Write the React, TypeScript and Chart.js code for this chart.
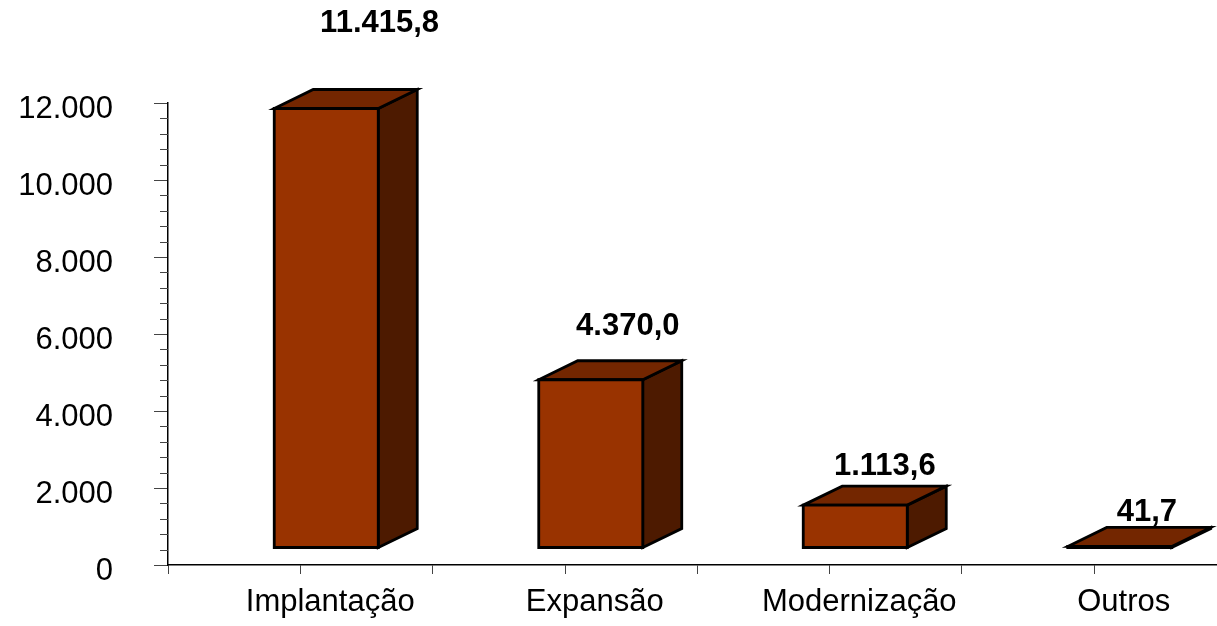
import React, { useEffect, useRef } from "react";
import { Chart, registerables } from "chart.js";

Chart.register(...registerables);

const categories = ["Implantação", "Expansão", "Modernização", "Outros"];
const values = [11415.8, 4370.0, 1113.6, 41.7];
const valueLabels = ["11.415,8", "4.370,0", "1.113,6", "41,7"];
const yTickValues = [0, 2000, 4000, 6000, 8000, 10000, 12000];
const yTickLabels = ["0", "2.000", "4.000", "6.000", "8.000", "10.000", "12.000"];

const FONT = "Arial, 'Liberation Sans', sans-serif";
const FRONT = "#993300";
const TOP = "#732600";
const SIDE = "#4d1a00";

const bars3d = {
  id: "bars3d",
  afterDatasetsDraw(chart: any) {
    const ctx = chart.ctx;
    const y = chart.scales.y;
    const meta = chart.getDatasetMeta(0);
    ctx.save();
    ctx.strokeStyle = "#444";
    ctx.lineWidth = 1;
    for (let v = 0; v <= 12000; v += 400) {
      if (v % 2000 === 0) continue;
      const py = Math.round(y.getPixelForValue(v)) + 0.5;
      ctx.beginPath();
      ctx.moveTo(chart.chartArea.left - 8, py);
      ctx.lineTo(chart.chartArea.left, py);
      ctx.stroke();
    }
    const x = chart.scales.x;
    const ab = chart.chartArea.bottom;
    categories.forEach((_, i) => {
      const px = Math.round(x.getPixelForValue(i)) + 0.5;
      ctx.beginPath();
      ctx.moveTo(px, ab);
      ctx.lineTo(px, ab + 9);
      ctx.stroke();
    });
    ctx.restore();

    const dx = 39;
    const dy = -19;
    const lift = 17;
    meta.data.forEach((el: any, i: number) => {
      const w = el.width;
      const h = el.base - el.y;
      const l = el.x - w / 2 + 26;
      const r = l + w;
      const b = el.base - lift;
      const t = b - h;
      ctx.save();
      ctx.lineWidth = 2.8;
      ctx.lineJoin = "miter";
      ctx.strokeStyle = "#000";
      ctx.beginPath();
      ctx.moveTo(r, t);
      ctx.lineTo(r + dx, t + dy);
      ctx.lineTo(r + dx, b + dy);
      ctx.lineTo(r, b);
      ctx.closePath();
      ctx.fillStyle = SIDE;
      ctx.fill();
      ctx.stroke();
      ctx.beginPath();
      ctx.moveTo(l, t);
      ctx.lineTo(l + dx, t + dy);
      ctx.lineTo(r + dx, t + dy);
      ctx.lineTo(r, t);
      ctx.closePath();
      ctx.fillStyle = TOP;
      ctx.fill();
      ctx.stroke();
      ctx.beginPath();
      ctx.rect(l, t, w, h);
      ctx.fillStyle = FRONT;
      ctx.fill();
      ctx.stroke();
      ctx.fillStyle = "#000";
      ctx.font = `bold 31px ${FONT}`;
      ctx.textAlign = "center";
      ctx.textBaseline = "alphabetic";
      const cx = l + w / 2 + 27 + 0.06 * h;
      const cy = b - h * 1.118 - 36;
      ctx.fillText(valueLabels[i], cx, cy + 11);
      ctx.restore();
    });
  },
};

export default function App() {
  const ref = useRef<HTMLCanvasElement>(null);
  useEffect(() => {
    if (!ref.current) return;
    const chart = new Chart(ref.current, {
      type: "bar",
      data: {
        labels: categories,
        datasets: [
          {
            data: values,
            backgroundColor: "rgba(0,0,0,0)",
            borderWidth: 0,
            barPercentage: 0.3932,
            categoryPercentage: 1,
          },
        ],
      },
      options: {
        responsive: false,
        devicePixelRatio: 1,
        animation: false,
        layout: { padding: { top: 103, right: 14, left: 0, bottom: 0 } },
        plugins: { legend: { display: false }, tooltip: { enabled: false } },
        scales: {
          x: {
            type: "category",
            offset: true,
            grid: { display: true, drawOnChartArea: false, tickLength: 9, color: "#444", offset: true },
            border: { display: true, color: "#000", width: 1.5 },
            ticks: {
              font: { family: FONT, size: 31 },
              color: "#000",
              labelOffset: 30,
              padding: 10,
              maxRotation: 0,
              autoSkip: false,
            },
            afterFit: (s: any) => {
              s.height = 61;
            },
          },
          y: {
            min: 0,
            max: 12000,
            ticks: {
              stepSize: 2000,
              font: { family: FONT, size: 31 },
              color: "#000",
              padding: 41,
              labelOffset: 6,
              callback: (v: any) => {
                const k = yTickValues.indexOf(Number(v));
                return k >= 0 ? yTickLabels[k] : "";
              },
            },
            grid: { display: true, drawOnChartArea: false, tickLength: 14, color: "#444" },
            border: { display: true, color: "#000", width: 1.5 },
            afterFit: (s: any) => {
              s.width = 168;
            },
          },
        },
      },
      plugins: [bars3d],
    } as any);
    return () => chart.destroy();
  }, []);
  return (
    <div
      style={{
        position: "fixed",
        left: 0,
        top: 0,
        width: 1217,
        height: 626,
        overflow: "hidden",
        background: "#fff",
      }}
    >
      <canvas ref={ref} width={1240} height={626} style={{ width: 1240, height: 626, display: "block" }} />
    </div>
  );
}
